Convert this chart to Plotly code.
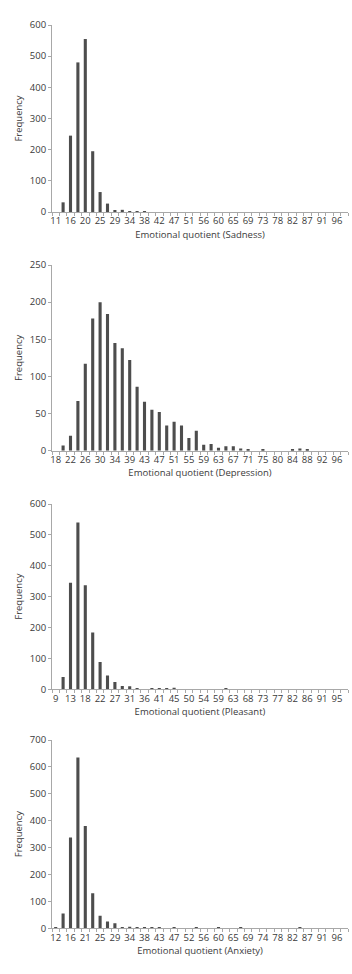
import plotly.graph_objects as go
from plotly.subplots import make_subplots

# ---------------- data ----------------
sad_cats = [11, 13, 16, 18, 20, 22, 25, 27, 29, 31, 34, 36, 38, 40, 42, 45, 47, 49, 51, 54,
            56, 58, 60, 62, 65, 67, 69, 71, 73, 76, 78, 80, 82, 85, 87, 89, 91, 94, 96, 98]
sad_vals = [0, 31, 245, 480, 555, 195, 64, 27, 5, 7, 2, 3, 1, 0, 0, 0, 0, 0, 0, 0,
            0, 0, 0, 0, 0, 0, 0, 0, 0, 0, 0, 0, 0, 0, 0, 0, 0, 0, 0, 0]

dep_cats = [18, 20, 22, 24, 26, 28, 30, 32, 34, 36, 39, 41, 43, 45, 47, 49, 51, 53, 55, 57,
            59, 61, 63, 65, 67, 69, 71, 73, 75, 78, 80, 82, 84, 86, 88, 90, 92, 94, 96, 98]
dep_vals = [0, 7, 20, 67, 117, 178, 200, 184, 145, 138, 122, 86, 66, 55, 52, 34, 39, 34, 17, 27,
            8, 9, 4, 6, 6, 3, 2, 0, 1, 0, 0, 0, 2, 3, 1, 0, 0, 0, 0, 0]

ple_cats = [9, 11, 13, 16, 18, 20, 22, 25, 27, 29, 31, 34, 36, 38, 41, 43, 45, 47, 50, 52,
            54, 56, 59, 61, 63, 66, 68, 70, 73, 75, 77, 79, 82, 84, 86, 88, 91, 93, 95, 97]
ple_vals = [0, 40, 345, 540, 337, 184, 88, 45, 24, 11, 10, 3, 0, 3, 2, 2, 5, 0, 0, 0,
            0, 0, 0, 2, 0, 0, 0, 0, 0, 0, 0, 0, 0, 0, 0, 0, 0, 0, 0, 0]

anx_cats = [12, 14, 16, 19, 21, 23, 25, 27, 29, 32, 34, 36, 38, 41, 43, 45, 47, 50, 52, 54,
            56, 58, 60, 63, 65, 67, 69, 72, 74, 76, 78, 80, 82, 85, 87, 89, 91, 94, 96, 98]
anx_vals = [2, 55, 338, 635, 380, 130, 47, 25, 19, 5, 6, 5, 4, 3, 2, 0, 2, 0, 0, 2,
            0, 0, 2, 0, 0, 2, 0, 0, 0, 0, 0, 0, 0, 2, 0, 0, 0, 0, 0, 0]

titles = ["Emotional quotient (Sadness)", "Emotional quotient (Depression)",
          "Emotional quotient (Pleasant)", "Emotional quotient (Anxiety)"]
y_max = [600, 250, 600, 700]
y_step = [100, 50, 100, 100]

panels = [(sad_cats, sad_vals), (dep_cats, dep_vals), (ple_cats, ple_vals), (anx_cats, anx_vals)]

# ---------------- layout (pixel geometry) ----------------
W, H = 352, 974
plot_px = [(25, 212), (265, 450.7), (504, 689.3), (740, 928.3)]  # (top, bottom) of each plot

FONT = "Open Sans"
TXT = "#3a3a3a"
AX = "#a8a8a8"
BAR = "#4d4d4d"

fig = make_subplots(rows=4, cols=1)

for i, (cats, vals) in enumerate(panels):
    r = i + 1
    labels = [str(c) for c in cats]
    fig.add_trace(go.Bar(x=labels, y=vals, marker=dict(color=BAR, line=dict(width=0)),
                         showlegend=False, hoverinfo="x+y"), row=r, col=1)
    ticktext = [lab if k % 2 == 0 else "" for k, lab in enumerate(labels)]
    top, bot = plot_px[i]
    fig.update_xaxes(type="category", categoryorder="array", categoryarray=labels,
                     tickmode="array", tickvals=labels, ticktext=ticktext,
                     tickson="boundaries", ticks="outside", ticklen=3, tickcolor=AX,
                     showline=True, linecolor=AX, linewidth=1, showgrid=False,
                     range=[-0.5, len(labels) - 0.5],
                     tickfont=dict(family=FONT, size=9.5, color=TXT), tickangle=0,
                     title=dict(text=titles[i], font=dict(family=FONT, size=9.5, color=TXT),
                                standoff=4),
                     automargin=False, fixedrange=True, row=r, col=1)
    fig.update_yaxes(range=[0, y_max[i]], dtick=y_step[i], tick0=0,
                     ticks="outside", ticklen=3, tickcolor=AX,
                     showline=True, linecolor=AX, linewidth=1, showgrid=False, zeroline=False,
                     tickfont=dict(family=FONT, size=9.5, color=TXT),
                     title=dict(text="Frequency", font=dict(family=FONT, size=9.5, color=TXT),
                                standoff=5),
                     domain=[1 - bot / H, 1 - top / H],
                     automargin=False, fixedrange=True, row=r, col=1)

fig.update_layout(width=W, height=H, margin=dict(l=52, r=4, t=0, b=0),
                  paper_bgcolor="white", plot_bgcolor="white", bargap=0.58,
                  font=dict(family=FONT, color=TXT))

fig.write_html("out.html", config={"displayModeBar": False})
